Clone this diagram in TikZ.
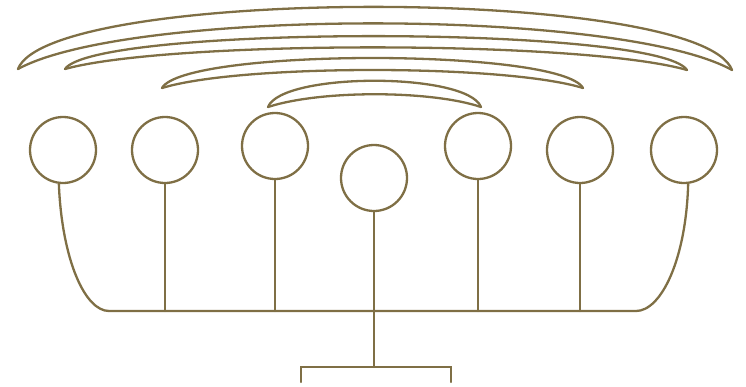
\documentclass[tikz,border=0pt]{standalone}
\definecolor{olivebrown}{RGB}{127,111,69}
\begin{document}
\begin{tikzpicture}[x=1pt,y=-1pt]
\tikzset{
  ln/.style={draw=olivebrown, line width=2.3pt, line cap=round},
  ball/.style={circle, draw=olivebrown, line width=2.3pt, minimum size=66pt, inner sep=0pt}
}
\useasboundingbox (0,0) rectangle (746,386);
% circles
\node[ball] (c1) at (63,150) {};
\node[ball] (c2) at (165,150) {};
\node[ball] (c3) at (275,146) {};
\node[ball] (c4) at (374,178) {};
\node[ball] (c5) at (478,146) {};
\node[ball] (c6) at (580,150) {};
\node[ball] (c7) at (684,150) {};
% coordinates
\coordinate (bl) at (109,311);
\coordinate (br) at (636,311);
\coordinate (j2) at (c2.south |- bl);
\coordinate (j3) at (c3.south |- bl);
\coordinate (j5) at (c5.south |- bl);
\coordinate (j6) at (c6.south |- bl);
\coordinate (m) at (374,367);
\coordinate (bL) at (301,367);
\coordinate (bR) at (451,367);
\coordinate (bLe) at (301,382);
\coordinate (bRe) at (451,382);
% bus
\draw[ln] (c1.263) .. controls (62,260) and (85,311) .. (bl) -- (br)
  .. controls (661,311) and (686,260) .. (c7.277);
\draw[ln] (c2.south) -- (j2);
\draw[ln] (c3.south) -- (j3);
\draw[ln] (c5.south) -- (j5);
\draw[ln] (c6.south) -- (j6);
\draw[ln] (c4.south) -- (m);
\draw[ln] (bLe) -- (bL) -- (bR) -- (bRe);
% crescents
\coordinate (t1l) at (18,69); \coordinate (t1r) at (732,70);
\coordinate (t2l) at (65,69); \coordinate (t2r) at (687,70);
\coordinate (t3l) at (162,88); \coordinate (t3r) at (583,88);
\coordinate (t4l) at (268,107); \coordinate (t4r) at (481,107);
\draw[ln] (t1l) .. controls (50,-14) and (700,-14) .. (t1r);
\draw[ln] (t1l) .. controls (130,8) and (620,8) .. (t1r);
\draw[ln] (t2l) .. controls (95,25) and (657,25) .. (t2r);
\draw[ln] (t2l) .. controls (170,40) and (582,40) .. (t2r);
\draw[ln] (t3l) .. controls (185,48) and (560,48) .. (t3r);
\draw[ln] (t3l) .. controls (240,64) and (505,64) .. (t3r);
\draw[ln] (t4l) .. controls (282,72) and (467,72) .. (t4r);
\draw[ln] (t4l) .. controls (320,90) and (430,90) .. (t4r);
\end{tikzpicture}
\end{document}
